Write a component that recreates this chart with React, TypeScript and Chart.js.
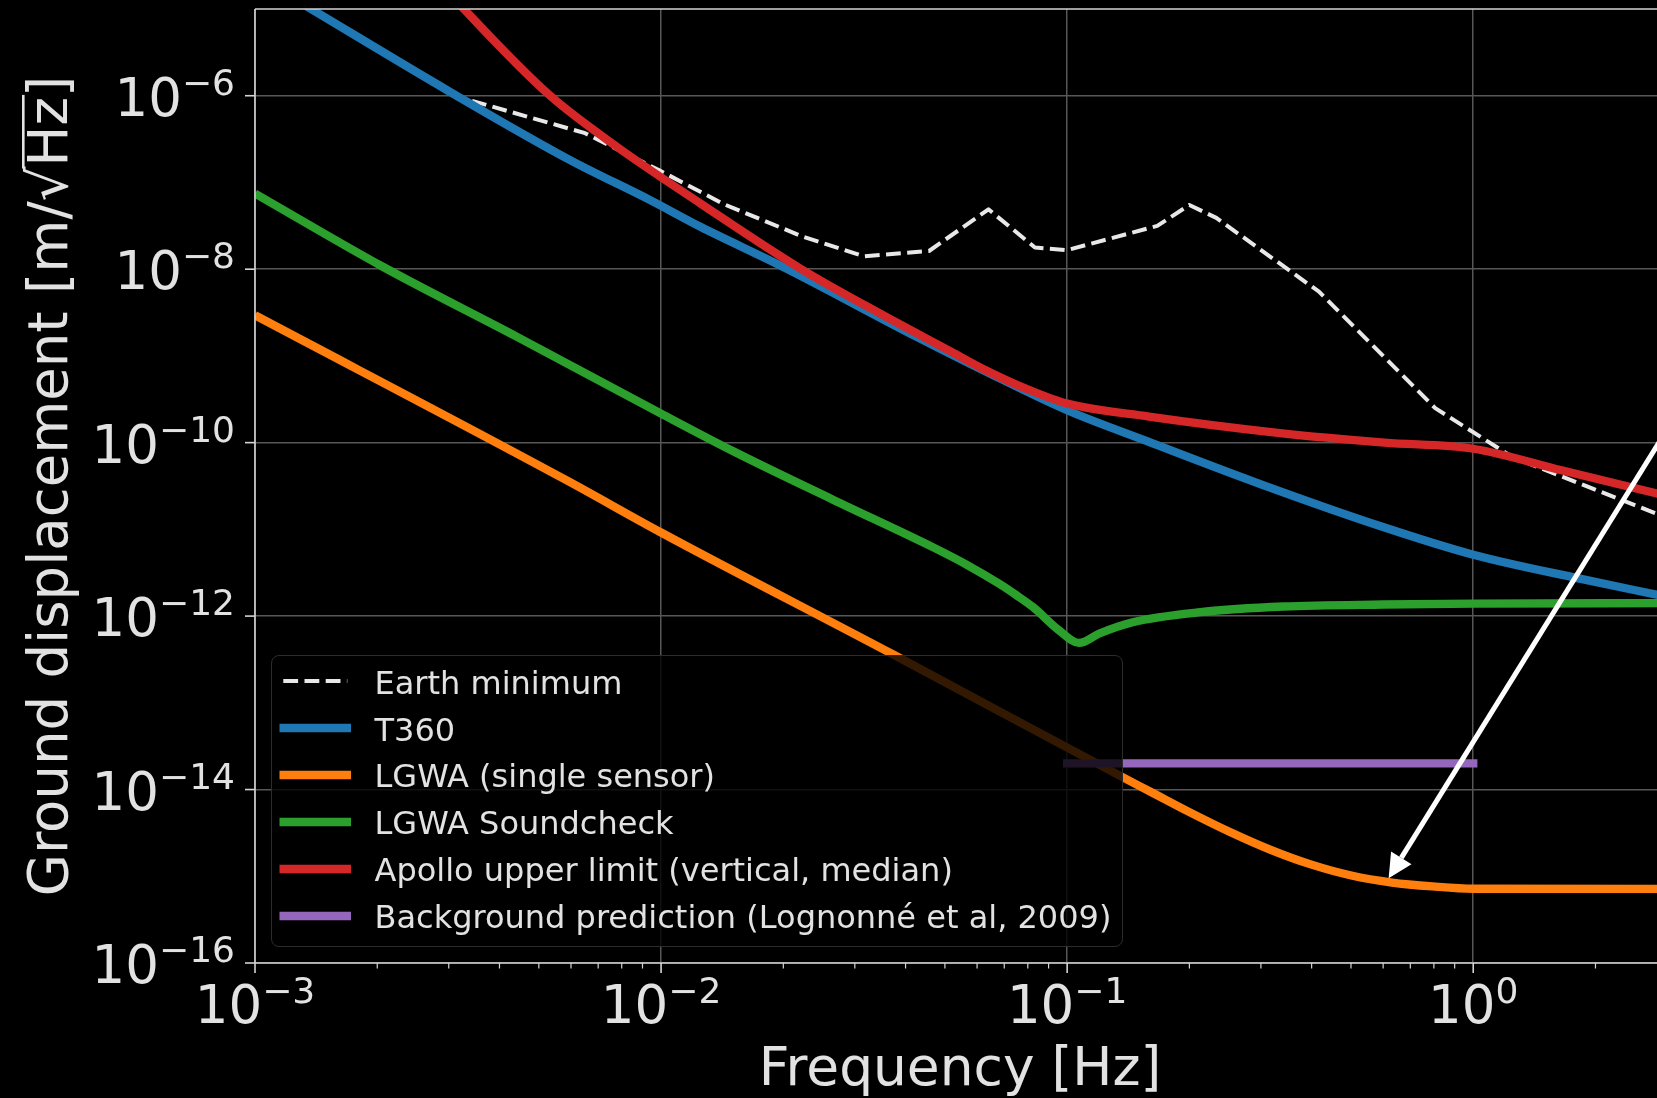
import React, { useEffect, useRef } from 'react';
import { Chart, registerables } from 'chart.js';

Chart.register(...registerables);

// ---------------- data ----------------
const earthFreq = [0.00305, 0.0065, 0.0099, 0.0143, 0.0222, 0.0316, 0.0457, 0.064, 0.0833, 0.1, 0.1667, 0.2, 0.233, 0.417, 0.806, 1.25, 2.5, 2.9];
const earthVal = [1.02e-6, 3.7e-7, 1.38e-7, 5.6e-8, 2.4e-8, 1.41e-8, 1.62e-8, 4.9e-8, 1.78e-8, 1.66e-8, 3.16e-8, 5.5e-8, 3.9e-8, 5.5e-9, 2.5e-10, 6.8e-11, 1.9e-11, 1.45e-11];

const t360Freq = [0.001, 0.00139, 0.00302, 0.00597, 0.0094, 0.0125, 0.02, 0.0426, 0.0621, 0.1, 0.159, 0.299, 0.605, 1.0, 1.83, 2.9];
const t360Val = [2.45e-5, 9.7e-6, 1.11e-6, 1.81e-7, 6.25e-8, 3.08e-8, 1.06e-8, 1.66e-9, 6.84e-10, 2.36e-10, 1.02e-10, 3.33e-11, 1.05e-11, 5.1e-12, 2.7e-12, 1.72e-12];

const lgwaFreq = [0.001, 0.00586, 0.01, 0.0372, 0.138, 0.16, 0.1995, 0.251, 0.316, 0.398, 0.501, 0.631, 0.794, 1.0, 2.9];
const lgwaVal = [2.94e-9, 3.67e-11, 9.2e-12, 3.63e-13, 1.36e-14, 9.5e-15, 5.53e-15, 3.26e-15, 2.03e-15, 1.37e-15, 1.02e-15, 8.47e-16, 7.64e-16, 7.18e-16, 7.15e-16];

const soundFreq = [0.001, 0.00207, 0.00442, 0.01, 0.0151, 0.0265, 0.0468, 0.0562, 0.0682, 0.075, 0.0824, 0.0957, 0.107, 0.12, 0.145, 0.213, 0.341, 0.601, 1.0, 2.9];
const soundVal = [7.46e-8, 1.06e-8, 1.66e-9, 2.16e-10, 7.9e-11, 2.2e-11, 6.2e-12, 3.98e-12, 2.34e-12, 1.74e-12, 1.27e-12, 6.8e-13, 4.9e-13, 6.3e-13, 8.5e-13, 1.11e-12, 1.29e-12, 1.36e-12, 1.39e-12, 1.41e-12];

const apolloFreq = [0.00251, 0.00329, 0.00533, 0.00778, 0.0125, 0.022, 0.0352, 0.0518, 0.0621, 0.0794, 0.1, 0.159, 0.33, 0.605, 1.0, 1.65, 2.9];
const apolloVal = [3.98e-5, 9.7e-6, 1.0e-6, 2.58e-7, 5.73e-8, 1.02e-8, 2.95e-9, 1.12e-9, 7.08e-10, 4.17e-10, 2.82e-10, 2.0e-10, 1.3e-10, 1.0e-10, 8.5e-11, 4.8e-11, 2.53e-11];

const bgFreq = [0.1, 1.0];
const bgVal = [2.0e-14, 2.0e-14];

// annotation arrow: [start, tip]
const arrowFreq = [3.98, 0.619];
const arrowVal = [1.19e-9, 9.5e-16];

const xMajorTicks = [1e-3, 1e-2, 1e-1, 1];
const xTickExponents = ['\u22123', '\u22122', '\u22121', '0'];
const yMajorTicks = [1e-16, 1e-14, 1e-12, 1e-10, 1e-8, 1e-6];
const yTickExponents = ['\u221216', '\u221214', '\u221212', '\u221210', '\u22128', '\u22126'];

const X_MIN = 1e-3;
const X_MAX = 2.835;
const Y_MIN = 1e-16;
const Y_MAX = 1e-5;

const legendLabels = [
  'Earth minimum',
  'T360',
  'LGWA (single sensor)',
  'LGWA Soundcheck',
  'Apollo upper limit (vertical, median)',
  'Background prediction (Lognonn\u00e9 et al, 2009)',
];
const seriesColors = ['#e8e8e8', '#1f77b4', '#ff7f0e', '#2ca02c', '#d62728', '#9467bd'];

// ---------------- styling ----------------
const FONT = '"DejaVu Sans", "Liberation Sans", sans-serif';
const TEXT = '#e2e2e2';
const SPINE = '#d4d4d4';
const GRID = '#575757';
const LW = 8.3;

function pts(fr: number[], vals: number[]) {
  return fr.map((f, i) => ({ x: f, y: vals[i] }));
}

const decorPlugin = {
  id: 'decor',
  afterDatasetsDraw(chart: any) {
    const { ctx } = chart;
    const xs = chart.scales.x;
    const ys = chart.scales.y;
    const x0 = xs.getPixelForValue(arrowFreq[0]);
    const y0 = ys.getPixelForValue(arrowVal[0]);
    const x1 = xs.getPixelForValue(arrowFreq[1]);
    const y1 = ys.getPixelForValue(arrowVal[1]);
    const ang = Math.atan2(y1 - y0, x1 - x0);
    const headLen = 24;
    const headHalf = 12;
    const bx = x1 - headLen * Math.cos(ang);
    const by = y1 - headLen * Math.sin(ang);
    ctx.save();
    ctx.strokeStyle = '#ffffff';
    ctx.fillStyle = '#ffffff';
    ctx.lineWidth = 5;
    ctx.beginPath();
    ctx.moveTo(x0, y0);
    ctx.lineTo(bx, by);
    ctx.stroke();
    ctx.beginPath();
    ctx.moveTo(x1, y1);
    ctx.lineTo(bx + headHalf * Math.sin(ang), by - headHalf * Math.cos(ang));
    ctx.lineTo(bx - headHalf * Math.sin(ang), by + headHalf * Math.cos(ang));
    ctx.closePath();
    ctx.fill();
    ctx.restore();
  },
  afterDraw(chart: any) {
    const { ctx } = chart;
    const { left, right, top, bottom } = chart.chartArea;
    const xs = chart.scales.x;
    const ys = chart.scales.y;
    ctx.save();
    // spines
    ctx.strokeStyle = SPINE;
    ctx.lineWidth = 1.6;
    ctx.beginPath();
    ctx.moveTo(left, top);
    ctx.lineTo(right + 2, top);
    ctx.moveTo(left, top);
    ctx.lineTo(left, bottom);
    ctx.moveTo(left, bottom);
    ctx.lineTo(right + 2, bottom);
    ctx.stroke();

    // x ticks (major + minor)
    for (let k = -3; k <= 1; k++) {
      for (let m = 1; m <= 9; m++) {
        const v = m * Math.pow(10, k);
        if (v < X_MIN * 0.999 || v > X_MAX) continue;
        const px = xs.getPixelForValue(v);
        const len = m === 1 ? 10 : 5.5;
        ctx.lineWidth = m === 1 ? 1.6 : 1.2;
        ctx.beginPath();
        ctx.moveTo(px, bottom);
        ctx.lineTo(px, bottom + len);
        ctx.stroke();
      }
    }
    // y ticks
    ctx.lineWidth = 1.6;
    yMajorTicks.forEach((v) => {
      const py = ys.getPixelForValue(v);
      ctx.beginPath();
      ctx.moveTo(left, py);
      ctx.lineTo(left - 10, py);
      ctx.stroke();
    });

    // tick labels
    ctx.fillStyle = TEXT;
    ctx.textAlign = 'left';
    ctx.textBaseline = 'alphabetic';
    const baseFont = `53px ${FONT}`;
    const supFont = `36px ${FONT}`;
    xMajorTicks.forEach((v, i) => {
      const px = xs.getPixelForValue(v);
      ctx.font = baseFont;
      const wb = ctx.measureText('10').width;
      ctx.font = supFont;
      const ws = ctx.measureText(xTickExponents[i]).width;
      const sx = px - (wb + ws) / 2;
      ctx.font = baseFont;
      ctx.fillText('10', sx, bottom + 60);
      ctx.font = supFont;
      ctx.fillText(xTickExponents[i], sx + wb, bottom + 40);
    });
    yMajorTicks.forEach((v, i) => {
      const py = ys.getPixelForValue(v);
      ctx.font = baseFont;
      const wb = ctx.measureText('10').width;
      ctx.font = supFont;
      const ws = ctx.measureText(yTickExponents[i]).width;
      const sx = left - 20 - (wb + ws);
      ctx.font = baseFont;
      ctx.fillText('10', sx, py + 20);
      ctx.font = supFont;
      ctx.fillText(yTickExponents[i], sx + wb, py - 1);
    });

    // x title
    ctx.font = `53.4px ${FONT}`;
    ctx.textAlign = 'center';
    ctx.fillText('Frequency [Hz]', 960, 1085);

    // y title (rotated), with overline over Hz for the square root
    ctx.save();
    ctx.translate(67, (top + bottom) / 2);
    ctx.rotate(-Math.PI / 2);
    ctx.font = `54.5px ${FONT}`;
    ctx.textAlign = 'left';
    const p1 = 'Ground displacement [m/';
    const p2 = '\u221a';
    const p3 = 'Hz';
    const p4 = ']';
    const w1 = ctx.measureText(p1).width;
    const m2 = ctx.measureText(p2);
    const w2 = m2.width;
    const w3 = ctx.measureText(p3).width;
    const w4 = ctx.measureText(p4).width;
    let x = -(w1 + w2 + w3 + w4) / 2;
    ctx.fillText(p1, x, 0);
    x += w1;
    ctx.fillText(p2, x, 0);
    const topY = -(m2.actualBoundingBoxAscent || 50);
    x += w2;
    ctx.fillText(p3, x, 0);
    ctx.fillRect(x - 2, topY, w3 + 4, 2.6);
    x += w3;
    ctx.fillText(p4, x, 0);
    ctx.restore();

    ctx.restore();
  },
};

function LegendBox() {
  const rowCenter = (i: number) => 25.1 + i * 46.9;
  return (
    <div
      style={{
        position: 'absolute',
        left: 271,
        top: 655,
        width: 852,
        height: 292,
        boxSizing: 'border-box',
        border: '1.5px solid #2c2c2c',
        borderRadius: 8,
        background: 'rgba(0,0,0,0.8)',
        fontFamily: FONT,
        fontSize: 32,
        color: TEXT,
      }}
    >
      {legendLabels.map((label, i) => (
        <React.Fragment key={label}>
          <svg
            width={76}
            height={14}
            style={{ position: 'absolute', left: 6.5, top: rowCenter(i) - 7 }}
          >
            {i === 0 ? (
              <line x1={4.3} y1={7} x2={68.3} y2={7} stroke={seriesColors[i]} strokeWidth={4} strokeDasharray="14.8 6.4" />
            ) : (
              <line x1={0.5} y1={7} x2={72} y2={7} stroke={seriesColors[i]} strokeWidth={LW} />
            )}
          </svg>
          <div
            style={{
              position: 'absolute',
              left: 102.5,
              top: rowCenter(i) - 22 + 1.5,
              height: 44,
              lineHeight: '44px',
              whiteSpace: 'nowrap',
            }}
          >
            {label}
          </div>
        </React.Fragment>
      ))}
    </div>
  );
}

export default function App() {
  const ref = useRef<HTMLCanvasElement>(null);
  useEffect(() => {
    const common = {
      pointRadius: 0,
      pointHoverRadius: 0,
      fill: false,
      clip: 0,
      borderJoinStyle: 'round',
    };
    const chart = new Chart(ref.current as HTMLCanvasElement, {
      type: 'line',
      data: {
        datasets: [
          { ...common, label: legendLabels[0], data: pts(earthFreq, earthVal), borderColor: seriesColors[0], borderWidth: 4, borderDash: [14.8, 6.4], tension: 0, order: 6 },
          { ...common, label: legendLabels[1], data: pts(t360Freq, t360Val), borderColor: seriesColors[1], borderWidth: LW, cubicInterpolationMode: 'monotone', order: 5 },
          { ...common, label: legendLabels[2], data: pts(lgwaFreq, lgwaVal), borderColor: seriesColors[2], borderWidth: LW, cubicInterpolationMode: 'monotone', order: 4 },
          { ...common, label: legendLabels[3], data: pts(soundFreq, soundVal), borderColor: seriesColors[3], borderWidth: LW, cubicInterpolationMode: 'monotone', order: 3 },
          { ...common, label: legendLabels[4], data: pts(apolloFreq, apolloVal), borderColor: seriesColors[4], borderWidth: LW, cubicInterpolationMode: 'monotone', order: 2 },
          { ...common, label: legendLabels[5], data: pts(bgFreq, bgVal), borderColor: seriesColors[5], borderWidth: LW, borderCapStyle: 'square', tension: 0, order: 1 },
        ],
      } as any,
      options: {
        animation: false,
        responsive: false,
        maintainAspectRatio: false,
        devicePixelRatio: 1,
        events: [],
        layout: { padding: { top: 9, left: 0, right: 0, bottom: 0 } },
        plugins: { legend: { display: false }, tooltip: { enabled: false }, title: { display: false } },
        scales: {
          x: {
            type: 'logarithmic',
            position: 'bottom',
            min: X_MIN,
            max: X_MAX,
            afterBuildTicks: (s: any) => {
              s.ticks = xMajorTicks.map((v) => ({ value: v }));
            },
            afterFit: (s: any) => {
              s.height = 135;
            },
            ticks: { display: false },
            grid: { color: GRID, lineWidth: 1.5, drawTicks: false },
            border: { display: false },
          },
          y: {
            type: 'logarithmic',
            position: 'left',
            min: Y_MIN,
            max: Y_MAX,
            afterBuildTicks: (s: any) => {
              s.ticks = yMajorTicks.map((v) => ({ value: v }));
            },
            afterFit: (s: any) => {
              s.width = 255;
            },
            ticks: { display: false },
            grid: { color: GRID, lineWidth: 1.5, drawTicks: false },
            border: { display: false },
          },
        },
      } as any,
      plugins: [decorPlugin],
    });
    return () => chart.destroy();
  }, []);

  return (
    <div
      style={{
        position: 'fixed',
        left: 0,
        top: 0,
        width: 1657,
        height: 1098,
        background: '#000000',
        overflow: 'hidden',
      }}
    >
      <canvas
        ref={ref}
        width={1657}
        height={1098}
        style={{ position: 'absolute', left: 0, top: 0, width: 1657, height: 1098 }}
      />
      <LegendBox />
    </div>
  );
}
